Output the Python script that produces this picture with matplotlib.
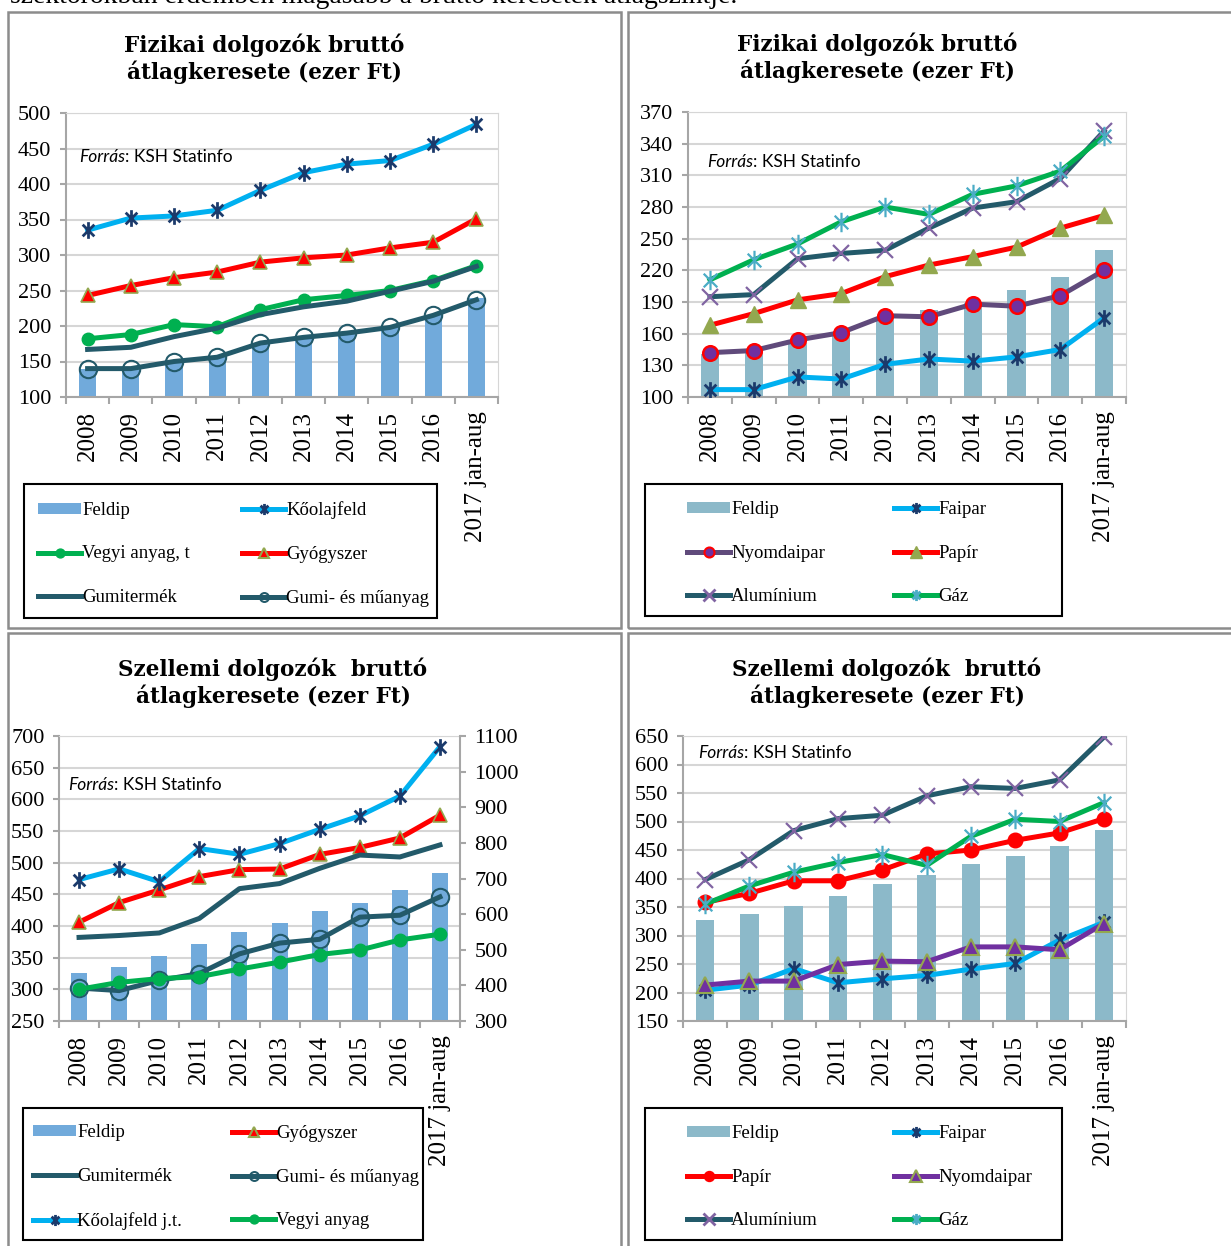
import numpy as np
import matplotlib
matplotlib.use("Agg")
import matplotlib.pyplot as plt
from matplotlib.path import Path
from matplotlib.patches import Rectangle
from matplotlib.lines import Line2D

# --- Data (ezer Ft) ---
categories = ['2008', '2009', '2010', '2011', '2012', '2013', '2014', '2015', '2016', '2017 jan-aug']

# Panel 1: Fizikai dolgozók
p1_feldip = [140, 140, 150, 156, 176, 184, 190, 198, 216, 239]
p1_koolaj = [335, 352, 355, 363, 391, 416, 428, 433, 456, 484]
p1_vegyi = [182, 188, 202, 199, 223, 237, 243, 250, 264, 285]
p1_gyogy = [243, 257, 268, 276, 290, 296, 300, 310, 318, 351]
p1_gumiterm = [167, 170, 185, 197, 216, 227, 235, 249, 263, 284]
p1_gumimu = [140, 140, 150, 156, 176, 184, 190, 198, 215, 237]

# Panel 2: Fizikai dolgozók
p2_feldip = [141, 143, 151, 159, 176, 182, 189, 201, 214, 239]
p2_faipar = [107, 107, 119, 117, 131, 136, 134, 138, 145, 175]
p2_nyomda = [142, 144, 154, 161, 177, 176, 188, 186, 196, 220]
p2_papir = [168, 179, 192, 198, 214, 225, 233, 242, 260, 272]
p2_alu = [195, 197, 231, 236, 239, 260, 279, 285, 307, 352]
p2_gaz = [211, 230, 245, 266, 280, 273, 292, 300, 314, 347]

# Panel 3: Szellemi dolgozók (Kőolajfeld j.t. on the right axis)
p3_feldip = [326, 335, 352, 371, 390, 405, 424, 437, 457, 484]
p3_gyogy = [406, 437, 457, 478, 489, 490, 513, 524, 539, 575]
p3_gumiterm = [382, 385, 389, 412, 459, 467, 491, 512, 509, 528]
p3_gumimu = [302, 298, 314, 325, 356, 373, 379, 414, 417, 446]
p3_koolaj = [697, 727, 691, 784, 768, 798, 838, 876, 931, 1070]
p3_vegyi = [300, 311, 317, 320, 332, 343, 355, 362, 378, 387]

# Panel 4: Szellemi dolgozók
p4_feldip = [327, 337, 351, 369, 390, 407, 425, 439, 457, 485]
p4_faipar = [204, 213, 242, 217, 224, 230, 241, 251, 292, 323]
p4_papir = [358, 374, 396, 396, 415, 443, 450, 467, 480, 505]
p4_nyomda = [213, 220, 220, 249, 255, 254, 280, 280, 275, 321]
p4_alu = [398, 433, 484, 505, 511, 545, 561, 558, 573, 648]
p4_gaz = [355, 387, 411, 428, 442, 423, 474, 504, 500, 533]

# --- Style ---
W, H = 1231, 1246
BAR_BLUE = '#71AADB'
BAR_TEAL = '#8CB9C9'
LIGHT_BLUE = '#00B0F0'
NAVY = '#1B3A6B'
RED = '#FF0000'
GREEN = '#00B050'
DARK_TEAL = '#235A6A'
OLIVE = '#93A84F'
PURPLE_X = '#8064A2'
TEAL_STAR = '#4BACC6'
GRID = '#D6D6D6'
AXIS = '#A6A6A6'
SERIF = 'Liberation Serif'

# Excel-style asterisk marker (x with a vertical stroke)
STAR = Path([(-0.7, -0.7), (0.7, 0.7), (-0.7, 0.7), (0.7, -0.7), (0, -1), (0, 1)],
            [Path.MOVETO, Path.LINETO] * 3)

LW = 3.6
STAR_MS = 12
x = np.arange(len(categories))

fig = plt.figure(figsize=(W / 100, H / 100), dpi=100)


def px_axes(left, top, right, bottom):
    """Create an axes from pixel coordinates (origin top-left)."""
    return fig.add_axes([left / W, 1 - bottom / H, (right - left) / W, (bottom - top) / H])


def style_axes(ax, ylim, step, right_border=True):
    ax.set_xlim(-0.5, len(categories) - 0.5)
    ax.set_ylim(*ylim)
    ax.set_yticks(np.arange(ylim[0], ylim[1] + 1, step))
    ax.set_xticks(x)
    ax.set_xticklabels(categories, rotation=90, fontfamily=SERIF, fontsize=18)
    ax.set_xticks(np.arange(-0.5, len(categories), 1), minor=True)
    ax.tick_params(axis='x', which='major', length=0, pad=10)
    ax.tick_params(axis='x', which='minor', length=5, width=1.5, color=AXIS)
    ax.tick_params(axis='y', length=4.5, width=1.5, color=AXIS, pad=6, labelsize=16)
    for lab in ax.get_yticklabels():
        lab.set_fontfamily(SERIF)
    ax.grid(axis='y', color=GRID, lw=1.5)
    ax.set_axisbelow(True)
    ax.spines['left'].set_color(AXIS)
    ax.spines['bottom'].set_color(AXIS)
    ax.spines['left'].set_linewidth(1.5)
    ax.spines['bottom'].set_linewidth(1.5)
    ax.spines['top'].set_color(GRID)
    ax.spines['right'].set_color(GRID)
    ax.spines['right'].set_visible(right_border)


def title(cx, cy, text):
    fig.text(cx / W, 1 - cy / H, text, ha='center', va='center', fontfamily='DejaVu Serif',
             fontweight='bold', fontsize=15.5, linespacing=1.2)


def source(px, py):
    t = fig.text(px / W, 1 - py / H, 'Forrás', fontfamily='Lato', fontstyle='italic',
                 fontsize=12.5, va='center', ha='left')
    plt.annotate(': KSH Statinfo', xy=(1, 0), xycoords=t, va='bottom', ha='left',
                 fontfamily='Lato', fontsize=12.5, annotation_clip=False)


def legend_box(x0, y0, x1, y1, col1, col2, mid_y, rows):
    """Black framed legend, two columns, Excel row-major order."""
    fig.patches.append(Rectangle((x0 / W, 1 - y1 / H), (x1 - x0) / W, (y1 - y0) / H,
                                 transform=fig.transFigure, fill=False, ec='black', lw=1.5))
    for cx, items in ((col1, rows[0::2]), (col2, rows[1::2])):
        handles = [h for h, _ in items]
        labels = [l for _, l in items]
        fig.legend(handles, labels, loc='center left', bbox_to_anchor=(cx / W, 1 - mid_y / H),
                   frameon=False, borderpad=0, borderaxespad=0, handlelength=2.3,
                   handleheight=0.5, handletextpad=0.05, labelspacing=1.42, numpoints=1,
                   markerscale=0.8, prop={'family': SERIF, 'size': 13.5})


def bar_handle(color):
    return Rectangle((0, 0), 1, 1, fc=color, ec='none')


def line_handle(color, **kw):
    return Line2D([], [], color=color, lw=LW, **kw)


# Panel frames
for (x0, y0, x1, y1) in [(8, 12, 621, 628), (628, 12, 1240, 628),
                         (8, 633, 621, 1260), (628, 633, 1240, 1260)]:
    fig.patches.append(Rectangle((x0 / W, 1 - y1 / H), (x1 - x0) / W, (y1 - y0) / H,
                                 transform=fig.transFigure, fill=False, ec='#8C8C8C', lw=1.8))

# Cut-off line of document text above the charts
fig.text(10 / W, 1 - 3 / H, 'szektorokban érdemben magasabb a bruttó keresetek átlagszintje.',
         fontfamily=SERIF, fontsize=20, va='baseline', ha='left')

# ---------------- Panel 1 ----------------
ax1 = px_axes(66, 113, 498, 397)
style_axes(ax1, (100, 500), 50)
ax1.bar(x, p1_feldip, width=0.4, color=BAR_BLUE, zorder=2)
ax1.plot(x, p1_vegyi, color=GREEN, lw=LW, marker='o', ms=9, mfc=GREEN, mec=GREEN, zorder=3)
ax1.plot(x, p1_gumiterm, color=DARK_TEAL, lw=LW, zorder=3)
ax1.plot(x, p1_gumimu, color=DARK_TEAL, lw=LW, marker='o', ms=12.5, mfc='none', mec=DARK_TEAL,
         mew=1.5, zorder=3)
ax1.plot(x, p1_gyogy, color=RED, lw=LW, marker='^', ms=10.5, mfc=RED, mec=OLIVE, mew=1.2, zorder=3)
ax1.plot(x, p1_koolaj, color=LIGHT_BLUE, lw=LW, marker=STAR, ms=STAR_MS, mec=NAVY, mew=2, zorder=3)
title(264, 59, 'Fizikai dolgozók bruttó\nátlagkeresete (ezer Ft)')
source(79, 157)
legend_box(24, 484, 437, 618, 38, 242, 554, [
    (bar_handle(BAR_BLUE), 'Feldip'),
    (line_handle(LIGHT_BLUE, marker=STAR, ms=10, mec=NAVY, mew=2), 'Kőolajfeld'),
    (line_handle(GREEN, marker='o', ms=8, mfc=GREEN, mec=GREEN), 'Vegyi anyag, t'),
    (line_handle(RED, marker='^', ms=9, mfc=RED, mec=OLIVE, mew=1.5), 'Gyógyszer'),
    (line_handle(DARK_TEAL), 'Gumitermék'),
    (line_handle(DARK_TEAL, marker='o', ms=8, mfc='none', mec=DARK_TEAL, mew=1.5), 'Gumi- és műanyag'),
])

# ---------------- Panel 2 ----------------
ax2 = px_axes(688, 112, 1126, 397)
style_axes(ax2, (100, 370), 30)
ax2.bar(x, p2_feldip, width=0.42, color=BAR_TEAL, zorder=2)
ax2.plot(x, p2_faipar, color=LIGHT_BLUE, lw=LW, marker=STAR, ms=STAR_MS, mec=NAVY, mew=2, zorder=3)
ax2.plot(x, p2_nyomda, color='#604A7B', lw=LW, marker='o', ms=10.5, mfc='#7030A0', mec=RED,
         mew=1.8, zorder=3)
ax2.plot(x, p2_papir, color=RED, lw=LW, marker='^', ms=11.5, mfc=OLIVE, mec=OLIVE, zorder=3)
ax2.plot(x, p2_alu, color=DARK_TEAL, lw=LW, marker='x', ms=12, mec=PURPLE_X, mew=1.6, zorder=3)
ax2.plot(x, p2_gaz, color=GREEN, lw=LW, marker=STAR, ms=14, mec=TEAL_STAR, mew=1.6, zorder=3)
title(877, 58, 'Fizikai dolgozók bruttó\nátlagkeresete (ezer Ft)')
source(707, 162)
legend_box(645, 484, 1062, 616, 687, 894, 553, [
    (bar_handle(BAR_TEAL), 'Feldip'),
    (line_handle(LIGHT_BLUE, marker=STAR, ms=10, mec=NAVY, mew=2), 'Faipar'),
    (line_handle('#604A7B', marker='o', ms=9, mfc='#7030A0', mec=RED, mew=1.5), 'Nyomdaipar'),
    (line_handle(RED, marker='^', ms=10, mfc=OLIVE, mec=OLIVE), 'Papír'),
    (line_handle(DARK_TEAL, marker='x', ms=10, mec=PURPLE_X, mew=2), 'Alumínium'),
    (line_handle(GREEN, marker=STAR, ms=10, mec=TEAL_STAR, mew=2), 'Gáz'),
])

# ---------------- Panel 3 ----------------
ax3 = px_axes(59, 736, 460, 1021)
style_axes(ax3, (250, 700), 50, right_border=False)
ax3.bar(x, p3_feldip, width=0.4, color=BAR_BLUE, zorder=2)
ax3.plot(x, p3_gyogy, color=RED, lw=LW, marker='^', ms=10.5, mfc=RED, mec=OLIVE, mew=1.2, zorder=3)
ax3.plot(x, p3_gumiterm, color=DARK_TEAL, lw=LW, zorder=3)
ax3.plot(x, p3_gumimu, color=DARK_TEAL, lw=LW, marker='o', ms=12.5, mfc='none', mec=DARK_TEAL,
         mew=1.5, zorder=3)
ax3.plot(x, p3_vegyi, color=GREEN, lw=LW, marker='o', ms=9, mfc=GREEN, mec=GREEN, zorder=3)
ax3b = ax3.twinx()
ax3b.set_ylim(300, 1100)
ax3b.set_yticks(np.arange(300, 1101, 100))
ax3b.tick_params(axis='y', length=4.5, width=1.5, color=AXIS, pad=6, labelsize=16)
for lab in ax3b.get_yticklabels():
    lab.set_fontfamily(SERIF)
for side in ('left', 'top', 'bottom'):
    ax3b.spines[side].set_visible(False)
ax3b.spines['right'].set_color(AXIS)
ax3b.spines['right'].set_linewidth(1.5)
ax3b.plot(x, p3_koolaj, color=LIGHT_BLUE, lw=LW, marker=STAR, ms=STAR_MS, mec=NAVY, mew=2)
title(273, 683, 'Szellemi dolgozók  bruttó\nátlagkeresete (ezer Ft)')
source(68, 785)
legend_box(23, 1108, 423, 1240, 33, 232, 1177, [
    (bar_handle(BAR_BLUE), 'Feldip'),
    (line_handle(RED, marker='^', ms=9, mfc=RED, mec=OLIVE, mew=1.5), 'Gyógyszer'),
    (line_handle(DARK_TEAL), 'Gumitermék'),
    (line_handle(DARK_TEAL, marker='o', ms=8, mfc='none', mec=DARK_TEAL, mew=1.5), 'Gumi- és műanyag'),
    (line_handle(LIGHT_BLUE, marker=STAR, ms=10, mec=NAVY, mew=2), 'Kőolajfeld j.t.'),
    (line_handle(GREEN, marker='o', ms=8, mfc=GREEN, mec=GREEN), 'Vegyi anyag'),
])

# ---------------- Panel 4 ----------------
ax4 = px_axes(683, 736, 1126, 1021)
style_axes(ax4, (150, 650), 50)
ax4.bar(x, p4_feldip, width=0.42, color=BAR_TEAL, zorder=2)
ax4.plot(x, p4_faipar, color=LIGHT_BLUE, lw=LW, marker=STAR, ms=STAR_MS, mec=NAVY, mew=2, zorder=3)
ax4.plot(x, p4_nyomda, color='#7030A0', lw=LW, marker='^', ms=11.5, mfc='#7030A0', mec=OLIVE,
         mew=1.5, zorder=3)
ax4.plot(x, p4_papir, color=RED, lw=LW, marker='o', ms=10.5, mfc=RED, mec=RED, zorder=3)
ax4.plot(x, p4_gaz, color=GREEN, lw=LW, marker=STAR, ms=14, mec=TEAL_STAR, mew=1.6, zorder=3)
ax4.plot(x, p4_alu, color=DARK_TEAL, lw=LW, marker='x', ms=12, mec=PURPLE_X, mew=1.6, zorder=3)
title(887, 683, 'Szellemi dolgozók  bruttó\nátlagkeresete (ezer Ft)')
source(698, 753)
legend_box(645, 1108, 1062, 1240, 687, 894, 1177, [
    (bar_handle(BAR_TEAL), 'Feldip'),
    (line_handle(LIGHT_BLUE, marker=STAR, ms=10, mec=NAVY, mew=2), 'Faipar'),
    (line_handle(RED, marker='o', ms=9, mfc=RED, mec=RED), 'Papír'),
    (line_handle('#7030A0', marker='^', ms=10, mfc='#7030A0', mec=OLIVE, mew=1.5), 'Nyomdaipar'),
    (line_handle(DARK_TEAL, marker='x', ms=10, mec=PURPLE_X, mew=2), 'Alumínium'),
    (line_handle(GREEN, marker=STAR, ms=10, mec=TEAL_STAR, mew=2), 'Gáz'),
])

fig.savefig('out.png', dpi=100)
